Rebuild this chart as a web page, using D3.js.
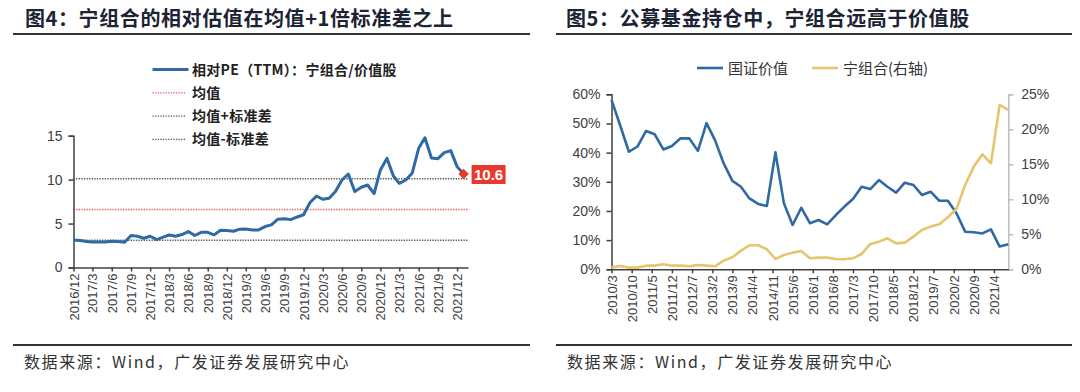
<!DOCTYPE html>
<html><head><meta charset="utf-8">
<script src="https://cdn.jsdelivr.net/npm/d3@7"></script>
<style>
html,body{margin:0;padding:0;background:#fff;}
svg{display:block;}
</style></head>
<body>
<svg id="c" width="1080" height="392"></svg>
<script>
// ---------- data : left chart (图4) ----------
const peStart = "2016-12-01";
const peLastDate = "2022-01-14";
const peValues = [3.14,3.07,2.95,2.9,2.9,2.9,3.0,2.95,2.88,
  3.64,3.56,3.33,3.56,3.18,3.45,3.7,3.56,3.75,4.09,3.64,4.0,4.0,3.71,4.24,4.2,4.13,4.36,4.39,4.28,4.28,4.66,4.85,5.5,5.55,5.45,5.75,6.0,
  7.39,8.14,7.77,7.88,8.64,9.96,10.64,8.64,9.13,9.39,8.41,11.1,12.42,10.42,9.58,9.96,10.72,13.56,14.77,12.46,12.39,13.07,13.3,11.48,10.64];
const peTickLabels = ["2016/12","2017/3","2017/6","2017/9","2017/12","2018/3","2018/6","2018/9","2018/12","2019/3","2019/6","2019/9","2019/12","2020/3","2020/6","2020/9","2020/12","2021/3","2021/6","2021/9","2021/12"];
const peYTicks = [0,5,10,15];
const peMean = 6.6, peStd = 3.5;
const peLastLabel = "10.6";
const leftLegend = ["相对PE（TTM）：宁组合/价值股","均值","均值+标准差","均值-标准差"];

// ---------- data : right chart (图5) ----------
const fundStart = "2010-03-01";
const fundEnd = "2021-09-01";
const valueShare = [58.1,49.3,40.3,42.1,47.4,46.3,41.1,42.3,44.9,44.9,40.6,50.1,44.3,36.3,30.3,28.3,24.3,22.4,21.7,40.1,22.6,15.2,21.1,15.8,16.9,15.4,18.6,21.5,24.1,28.3,27.5,30.6,28.3,26.3,29.7,28.9,25.5,26.6,23.5,23.5,19.2,12.9,12.7,12.3,13.7,7.8,8.6];
const ningShare = [0.24,0.48,0.24,0.24,0.52,0.52,0.71,0.52,0.52,0.43,0.62,0.52,0.43,1.24,1.71,2.67,3.43,3.43,2.86,1.48,2.05,2.38,2.62,1.57,1.67,1.67,1.48,1.43,1.57,2.19,3.62,3.95,4.43,3.71,3.81,4.67,5.62,6.1,6.43,7.43,8.62,12.05,14.67,16.43,15.14,23.48,22.76];
const fundTickLabels = ["2010/3","2010/10","2011/5","2011/12","2012/7","2013/2","2013/9","2014/4","2014/11","2015/6","2016/1","2016/8","2017/3","2017/10","2018/5","2018/12","2019/7","2020/2","2020/9","2021/4"];
const leftPctTicks = [0,10,20,30,40,50,60];
const rightPctTicks = [0,5,10,15,20,25];
const rightLegend = ["国证价值","宁组合(右轴)"];

const titles = ["图4：宁组合的相对估值在均值+1倍标准差之上","图5：公募基金持仓中，宁组合远高于价值股"];
const sourceText = "数据来源：Wind，广发证券发展研究中心";

// ---------- style ----------
const BLUE = "#2f6aa5", YELLOW = "#e5c56e", RED = "#e8392c";
const CJK = "'Noto Sans CJK SC','Noto Sans',sans-serif";
const LAT = "'Liberation Sans',Arial,sans-serif";
const AX = "#404040";

const svg = d3.select("#c");
svg.append("rect").attr("width",1080).attr("height",392).attr("fill","#fff");

const parseYM = s => { const [y,m] = s.split("/").map(Number); return new Date(y, m-1, 1); };
const parseD = d3.timeParse("%Y-%m-%d");

// titles & rules
[[25,13,530],[566,556,1072]].forEach(([tx,x0,x1],i)=>{
  svg.append("text").attr("x",tx).attr("y",26).attr("font-family",CJK).attr("font-weight",700)
    .attr("font-size",20).attr("fill","#1c2333").attr("letter-spacing",0.6).text(titles[i]);
  svg.append("line").attr("x1",x0).attr("x2",x1).attr("y1",34).attr("y2",34).attr("stroke","#333").attr("stroke-width",2);
  svg.append("line").attr("x1",x0).attr("x2",x1).attr("y1",345).attr("y2",345).attr("stroke","#333").attr("stroke-width",2);
  svg.append("text").attr("x",x0+11).attr("y",368).attr("font-family",CJK).attr("font-size",16)
    .attr("fill","#333").attr("letter-spacing",1.6).text(sourceText);
});

// ================= LEFT CHART =================
{
  const peDates = d3.timeMonth.range(parseD(peStart), parseD(peLastDate)).concat([parseD(peLastDate)]);
  const data = peValues.map((v,i)=>({d:peDates[i], v}));
  const x = d3.scaleTime().domain([parseD(peStart), parseD("2022-01-22")]).range([73.5, 468]);
  const y = d3.scaleLinear().domain([0,15]).range([267.5, 135.7]);

  // reference lines
  [[peMean,"#e2585a"],[peMean+peStd,"#555"],[peMean-peStd,"#555"]].forEach(([v,c])=>{
    svg.append("line").attr("x1",x.range()[0]).attr("x2",x.range()[1]).attr("y1",y(v)).attr("y2",y(v))
      .attr("stroke",c).attr("stroke-width",1.3).attr("stroke-dasharray","1.3,1.3");
  });

  // y axis
  const ya = svg.append("g").attr("transform",`translate(${x.range()[0]},0)`)
    .call(d3.axisLeft(y).tickValues(peYTicks).tickSize(5).tickPadding(6));
  ya.select(".domain").attr("stroke",AX).attr("stroke-width",1.5);
  ya.selectAll(".tick line").attr("stroke",AX).attr("stroke-width",1.5);
  ya.selectAll("text").attr("font-family",LAT).attr("font-size",14).attr("fill",AX);

  // x axis
  const xa = svg.append("g").attr("transform",`translate(0,${y(0)})`)
    .call(d3.axisBottom(x).tickValues(peTickLabels.map(parseYM)).tickSize(4).tickSizeOuter(0).tickFormat(d3.timeFormat("%Y/%-m")));
  xa.select(".domain").attr("stroke",AX).attr("stroke-width",1.5);
  xa.selectAll(".tick line").attr("stroke",AX).attr("stroke-width",1.5);
  xa.selectAll("text").attr("font-family",LAT).attr("font-size",13).attr("fill",AX)
    .attr("transform","rotate(-90)").attr("text-anchor","end").attr("dx",-6).attr("dy",4.5).attr("y",0).attr("x",0);

  // line
  svg.append("path").datum(data).attr("fill","none").attr("stroke",BLUE).attr("stroke-width",3)
    .attr("stroke-linejoin","round").attr("d",d3.line().x(d=>x(d.d)).y(d=>y(d.v)));

  // last point marker + label
  const last = data[data.length-1];
  const lx = x(last.d), ly = y(last.v);
  svg.append("path").attr("d",d3.symbol(d3.symbolDiamond2,70)()).attr("transform",`translate(${lx},${ly})`).attr("fill",RED);
  svg.append("rect").attr("x",lx+8).attr("y",ly-9).attr("width",34).attr("height",19).attr("fill",RED);
  svg.append("text").attr("x",lx+25).attr("y",ly+6).attr("text-anchor","middle").attr("font-family",LAT)
    .attr("font-weight",700).attr("font-size",15).attr("fill","#fff").text(peLastLabel);

  // legend
  const lg = svg.append("g");
  const ly0 = 69.5, step = 23.3;
  leftLegend.forEach((t,i)=>{
    const yy = ly0 + i*step;
    const ln = lg.append("line").attr("x1",152.5).attr("x2", i===0?188.5:186).attr("y1",yy).attr("y2",yy);
    if(i===0) ln.attr("stroke",BLUE).attr("stroke-width",3);
    else ln.attr("stroke", i===1?"#e2585a":"#555").attr("stroke-width",1.2).attr("stroke-dasharray","1.3,1.3");
    lg.append("text").attr("x",192).attr("y",yy+5).attr("font-family",CJK).attr("font-weight",700)
      .attr("font-size",14).attr("letter-spacing",0.3).attr("fill","#222").text(t);
  });
}

// ================= RIGHT CHART =================
{
  const dates = d3.timeMonth.range(parseD(fundStart), d3.timeMonth.offset(parseD(fundEnd),1), 3);
  const x = d3.scaleTime().domain([parseD(fundStart), parseD(fundEnd)]).range([611.5, 1008.3]);
  const yL = d3.scaleLinear().domain([0,60]).range([269.3, 94.3]);
  const yR = d3.scaleLinear().domain([0,25]).range([269.3, 94.3]);

  // right axis
  const ra = svg.append("g").attr("transform",`translate(${x.range()[1]},0)`)
    .call(d3.axisRight(yR).tickValues(rightPctTicks).tickSize(5).tickPadding(8).tickFormat(d=>d+"%"));
  ra.select(".domain").attr("stroke","#bfbfbf").attr("stroke-width",1.5);
  ra.selectAll(".tick line").attr("stroke","#bfbfbf").attr("stroke-width",1.5);
  ra.selectAll("text").attr("font-family",LAT).attr("font-size",14).attr("fill",AX);

  // left axis
  const la = svg.append("g").attr("transform",`translate(${x.range()[0]},0)`)
    .call(d3.axisLeft(yL).tickValues(leftPctTicks).tickSize(5).tickPadding(6).tickFormat(d=>d+"%"));
  la.select(".domain").attr("stroke",AX).attr("stroke-width",1.5);
  la.selectAll(".tick line").attr("stroke",AX).attr("stroke-width",1.5);
  la.selectAll("text").attr("font-family",LAT).attr("font-size",14).attr("fill",AX);

  // x axis
  const xa = svg.append("g").attr("transform",`translate(0,${yL(0)})`)
    .call(d3.axisBottom(x).tickValues(fundTickLabels.map(parseYM)).tickSize(4).tickSizeOuter(0).tickFormat(d3.timeFormat("%Y/%-m")));
  xa.select(".domain").attr("stroke",AX).attr("stroke-width",1.5);
  xa.selectAll(".tick line").attr("stroke",AX).attr("stroke-width",1.5);
  xa.selectAll("text").attr("font-family",LAT).attr("font-size",13).attr("fill",AX)
    .attr("transform","rotate(-90)").attr("text-anchor","end").attr("dx",-6).attr("dy",4.5).attr("y",0).attr("x",0);

  // lines
  svg.append("path").datum(valueShare).attr("fill","none").attr("stroke",BLUE).attr("stroke-width",2.6)
    .attr("stroke-linejoin","round").attr("d",d3.line().x((d,i)=>x(dates[i])).y(d=>yL(d)));
  svg.append("path").datum(ningShare).attr("fill","none").attr("stroke",YELLOW).attr("stroke-width",2.6)
    .attr("stroke-linejoin","round").attr("d",d3.line().x((d,i)=>x(dates[i])).y(d=>yR(d)));

  // legend
  const lg = svg.append("g");
  [[697,BLUE],[812,YELLOW]].forEach(([lx,c],i)=>{
    lg.append("line").attr("x1",lx).attr("x2",lx+26).attr("y1",68).attr("y2",68).attr("stroke",c).attr("stroke-width",2.6);
    lg.append("text").attr("x",lx+31).attr("y",73.5).attr("font-family",CJK).attr("font-size",15).attr("fill","#333").text(rightLegend[i]);
  });
}
</script>
</body></html>
